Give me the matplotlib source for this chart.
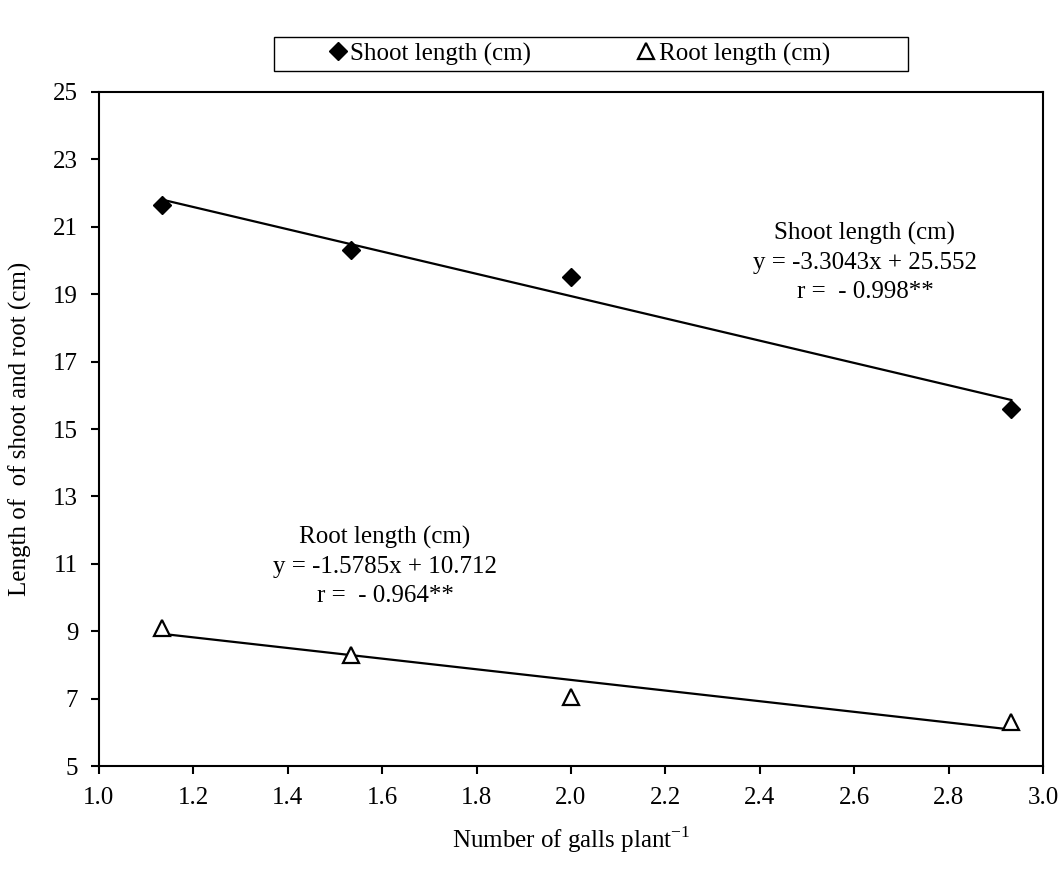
import matplotlib
matplotlib.use("Agg")
import matplotlib.pyplot as plt
from matplotlib.patches import Rectangle

plt.rcParams['font.family'] = ['Liberation Serif', 'DejaVu Serif']
plt.rcParams['mathtext.fontset'] = 'custom'
plt.rcParams['mathtext.rm'] = 'Liberation Serif'

# data
galls = [1.133, 1.533, 2.0, 2.933]
shoot = [21.65, 20.3, 19.5, 15.6]
root = [9.1, 8.3, 7.05, 6.3]

# fitted lines given on the chart
shoot_fit = (-3.3043, 25.552)
root_fit = (-1.5785, 10.712)

x_ticks = [1.0, 1.2, 1.4, 1.6, 1.8, 2.0, 2.2, 2.4, 2.6, 2.8, 3.0]
y_ticks = [5, 7, 9, 11, 13, 15, 17, 19, 21, 23, 25]

fs = 18

fig = plt.figure(figsize=(10.63, 8.81), dpi=100)
ax = fig.add_axes([0.0931, 0.1305, 0.888, 0.7651])

xs = [galls[0], galls[-1]]
ax.plot(xs, [shoot_fit[0] * x + shoot_fit[1] for x in xs], color='black', lw=1.6)
ax.plot(xs, [root_fit[0] * x + root_fit[1] for x in xs], color='black', lw=1.6)

h1, = ax.plot(galls, shoot, 'D', color='black', ms=8.7, label="Shoot length (cm)")
h2, = ax.plot(galls, root, '^', mfc='white', mec='black', mew=1.6, ms=11.5,
              label="Root length (cm)")

ax.set_xlim(1.0, 3.0)
ax.set_ylim(5, 25)
ax.set_xticks(x_ticks)
ax.set_xticklabels([f"{t:.1f}" for t in x_ticks])
ax.set_yticks(y_ticks)
ax.tick_params(direction='out', length=6, width=1.5, labelsize=fs, pad=9)
for s in ax.spines.values():
    s.set_linewidth(1.5)

ax.set_xlabel(r"Number of galls plant$^{\mathregular{-1}}$", fontsize=fs)
ax.xaxis.set_label_coords(0.5, -0.086)
ax.set_ylabel("Length of  of shoot and root (cm)", fontsize=fs)
ax.yaxis.set_label_coords(-0.071, 0.5)

ax.text(2.623, 19.95, "Shoot length (cm)\ny = -3.3043x + 25.552\nr =  - 0.998**",
        ha='center', va='center', fontsize=fs, linespacing=1.4)
ax.text(1.606, 10.93, "Root length (cm)\ny = -1.5785x + 10.712\nr =  - 0.964**",
        ha='center', va='center', fontsize=fs, linespacing=1.4)

# legend box at the top
fig.patches.append(Rectangle((274 / 1063, 1 - 71 / 881), 634 / 1063, 34 / 881,
                             transform=fig.transFigure, fill=False,
                             edgecolor='black', lw=1))
fig.legend(handles=[h1, h2], loc='center', bbox_to_anchor=(580 / 1063, 1 - 54 / 881),
           ncol=2, frameon=False, fontsize=fs, handlelength=0.6,
           handletextpad=0.2, columnspacing=4.3)

fig.savefig("out.png", dpi=100)
